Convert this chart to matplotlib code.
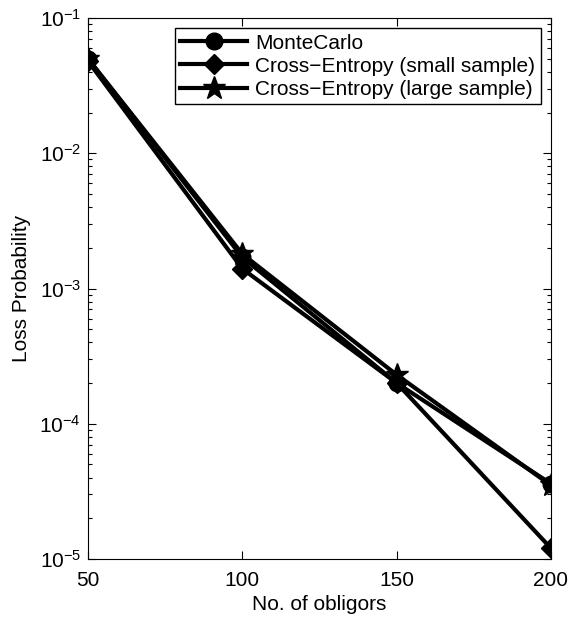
import matplotlib
matplotlib.use('Agg')
import matplotlib.pyplot as plt

plt.rcParams['font.family'] = ['Liberation Sans', 'DejaVu Sans']

# data
obligors = [50, 100, 150, 200]
monte_carlo = [0.050, 0.0017, 0.00020, 3.6e-5]
ce_small = [0.048, 0.0014, 0.00020, 1.2e-5]
ce_large = [0.050, 0.0018, 0.00023, 3.5e-5]

fig = plt.figure(figsize=(5.69, 6.17), dpi=100)
ax = fig.add_axes([88/569, 1 - 559/617, (551-88)/569, (559-18)/617])

ax.semilogy(obligors, monte_carlo, 'k-o', lw=3.0, ms=12, label='MonteCarlo')
ax.semilogy(obligors, ce_small, 'k-D', lw=3.0, ms=10, label='Cross\u2212Entropy (small sample)')
ax.semilogy(obligors, ce_large, 'k-*', lw=3.0, ms=17, label='Cross\u2212Entropy (large sample)')

ax.set_xlim(50, 200)
ax.set_ylim(1e-5, 1e-1)
ax.set_xticks([50, 100, 150, 200])
ax.tick_params(which='both', direction='in', top=True, right=True, labelsize=15, width=0.8)
ax.tick_params(which='major', length=6)
ax.tick_params(which='minor', length=3)
ax.tick_params(axis='x', pad=9)
ax.tick_params(axis='y', pad=5)
ax.set_xlabel('No. of obligors', fontsize=15, labelpad=3)
ax.set_ylabel('Loss Probability', fontsize=15, labelpad=6)

leg = ax.legend(loc='upper right', fontsize=15, fancybox=False, framealpha=1,
                edgecolor='k', handlelength=3.2, borderaxespad=0.5,
                labelspacing=0.2, handletextpad=0.4, borderpad=0.25)
leg.get_frame().set_linewidth(1.0)

fig.savefig('out.png', dpi=100)
